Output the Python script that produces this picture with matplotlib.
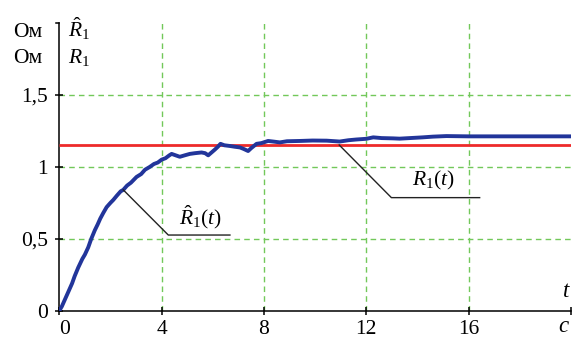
import matplotlib
matplotlib.use("Agg")
import matplotlib.pyplot as plt

plt.rcParams["font.family"] = ["Liberation Serif", "DejaVu Serif"]
plt.rcParams["mathtext.fontset"] = "custom"
plt.rcParams["mathtext.rm"] = "Liberation Serif"
plt.rcParams["mathtext.it"] = "Liberation Serif:italic"

# ── данные ─────────────────────────────────────────────
t_est = [0, 0.1, 0.2, 0.35, 0.5, 0.6, 0.74, 0.9, 1.0, 1.13, 1.25, 1.39, 1.5, 1.6,
         1.72, 1.85, 2.0, 2.11, 2.25, 2.4, 2.5, 2.65, 2.8, 3.02, 3.2, 3.35, 3.54,
         3.7, 3.85, 4.0, 4.15, 4.3, 4.39, 4.55, 4.71, 4.9, 5.1, 5.3, 5.56, 5.7,
         5.82, 5.95, 6.08, 6.2, 6.3, 6.45, 6.67, 6.85, 7.06, 7.2, 7.38, 7.5, 7.71,
         7.9, 8.16, 8.4, 8.62, 8.9, 9.4, 9.9, 10.45, 10.96, 11.3, 11.6, 12.0,
         12.27, 12.6, 13.05, 13.3, 13.7, 14.2, 14.6, 15.13, 16, 17, 18, 19, 20]
R_est = [0.0, 0.03, 0.07, 0.13, 0.19, 0.24, 0.30, 0.36, 0.39, 0.44, 0.50, 0.56,
         0.60, 0.64, 0.68, 0.72, 0.75, 0.77, 0.80, 0.83, 0.84, 0.87, 0.89, 0.93,
         0.95, 0.98, 1.0, 1.02, 1.03, 1.05, 1.06, 1.08, 1.09, 1.08, 1.07, 1.08,
         1.09, 1.095, 1.10, 1.095, 1.08, 1.10, 1.12, 1.14, 1.16, 1.15, 1.145,
         1.14, 1.135, 1.125, 1.11, 1.13, 1.16, 1.165, 1.18, 1.175, 1.17, 1.178,
         1.18, 1.183, 1.182, 1.176, 1.185, 1.19, 1.195, 1.205, 1.2, 1.198, 1.196,
         1.2, 1.205, 1.21, 1.214, 1.212, 1.212, 1.212, 1.212, 1.212]
t_true = [0, 20]
R_true = [1.152, 1.152]

x_ticks = [0, 4, 8, 12, 16]
y_ticks = [0, 0.5, 1, 1.5]
y_labels = ["0", "0,5", "1", "1,5"]

BLUE = "#22359a"
RED = "#ee2a2a"
GREEN = "#72c85a"
FS = 15.5

fig = plt.figure(figsize=(5.74, 3.43), dpi=100)
ax = fig.add_axes([59.3 / 574, 32.3 / 343, 511.7 / 574, 287.7 / 343])
ax.set_xlim(0, 20)
ax.set_ylim(0, 2)

for s in ("top", "right"):
    ax.spines[s].set_visible(False)
for s in ("left", "bottom"):
    ax.spines[s].set_linewidth(1.1)

# сетка
for x in x_ticks[1:]:
    ax.axvline(x, color=GREEN, ls=(0, (4, 3)), lw=1.0, zorder=0)
for y in y_ticks[1:]:
    ax.axhline(y, color=GREEN, ls=(0, (4, 3)), lw=1.0, zorder=0)

ax.plot(t_true, R_true, color=RED, lw=2.0, zorder=3, solid_capstyle="butt")
ax.plot(t_est, R_est, color=BLUE, lw=2.8, zorder=4)

ax.set_xticks(x_ticks + [20])
ax.set_xticklabels(["0", "4", "8", "12", "16", ""])
ax.set_yticks(y_ticks)
ax.set_yticklabels(y_labels)
ax.tick_params(direction="inout", length=6, width=1.1, labelsize=FS, pad=4)
ax.tick_params(axis="y", pad=5)
ax.get_xticklabels()[0].set_horizontalalignment("left")

# маленькая засечка сверху оси
ax.plot([-0.12, 0], [2, 2], color="black", lw=1.1, clip_on=False)

# выноски
ax.plot([2.5, 4.26, 6.67], [0.84, 0.526, 0.526], color="#222222", lw=1.0, zorder=5)
ax.text(5.53, 0.60, r"$\hat{R}_1(t)$", fontsize=FS, ha="center", va="baseline")
ax.plot([10.94, 12.98, 16.43], [1.152, 0.786, 0.786], color="#222222", lw=1.0, zorder=5)
ax.text(14.62, 0.867, r"$R_1(t)$", fontsize=FS, ha="center", va="baseline")

# подписи осей
ax.text(19.95, 0.06, "t", fontsize=FS + 1, style="italic", ha="right", va="bottom")
fig.text(568 / 574, 1 - 337 / 343, "c", fontsize=FS + 1, style="italic", ha="right", va="bottom")
fig.text(13 / 574, 1 - 36.7 / 343, "Ом", fontsize=FS, ha="left", va="baseline")
fig.text(13 / 574, 1 - 63.3 / 343, "Ом", fontsize=FS, ha="left", va="baseline")
fig.text(68 / 574, 1 - 36.7 / 343, r"$\hat{R}_1$", fontsize=FS, ha="left", va="baseline")
fig.text(68 / 574, 1 - 63.3 / 343, r"$R_1$", fontsize=FS, ha="left", va="baseline")

fig.savefig("out.png", dpi=100)
